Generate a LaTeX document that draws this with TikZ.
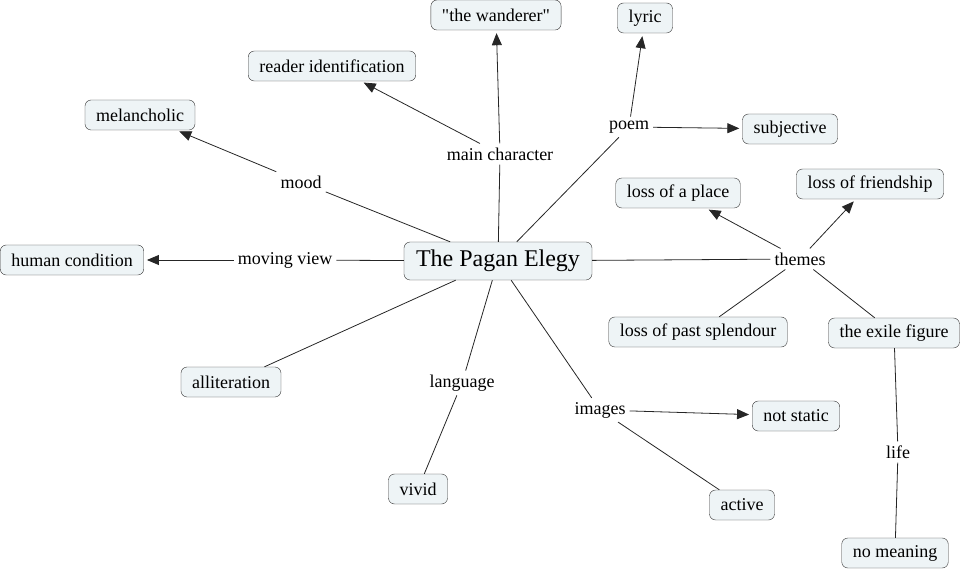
\documentclass[tikz,border=0pt]{standalone}
\usepackage{fontspec}
\setmainfont{Liberation Serif}[Ligatures=TeXOff]
\usetikzlibrary{arrows.meta}
\definecolor{cmapfill}{RGB}{238,244,246}
\begin{document}
\begin{tikzpicture}[x=1pt, y=-1pt,
    concept/.style={rectangle, rounded corners=6pt, draw=black!80, fill=cmapfill,
        font=\rmfamily\fontsize{18}{20}\selectfont, inner xsep=11pt, minimum height=30pt},
    phrase/.style={font=\rmfamily\fontsize{18}{20}\selectfont, inner sep=4pt},
    link/.style={draw=black!85, line width=0.8pt},
    linkto/.style={link, -{Triangle[length=12pt, width=10pt]}, shorten >=3pt}]
    \useasboundingbox (0,0) rectangle (962,572);
    % concepts
    \node[concept, font=\rmfamily\fontsize{24}{26}\selectfont, inner xsep=12pt, minimum height=38pt] (elegy) at (498,261) {The Pagan Elegy};
    \node[concept] (melancholic) at (140,115) {melancholic};
    \node[concept] (human) at (72,260) {human condition};
    \node[concept] (reader) at (332,66) {reader identification};
    \node[concept] (wanderer) at (496,15) {"the wanderer"};
    \node[concept] (lyric) at (645,18) {lyric};
    \node[concept] (subjective) at (790,129) {subjective};
    \node[concept] (place) at (678,193) {loss of a place};
    \node[concept] (friendship) at (870,184) {loss of friendship};
    \node[concept] (splendour) at (698,332) {loss of past splendour};
    \node[concept] (exile) at (894,333) {the exile figure};
    \node[concept] (alliteration) at (231,382) {alliteration};
    \node[concept] (vivid) at (418,489) {vivid};
    \node[concept] (static) at (796,416) {not static};
    \node[concept] (active) at (742,505) {active};
    \node[concept] (meaning) at (895,553) {no meaning};
    % linking phrases
    \node[phrase] (mood) at (301,182) {mood};
    \node[phrase] (moving) at (285,260) {moving view};
    \node[phrase] (character) at (500,154) {main character};
    \node[phrase] (poem) at (629,127) {poem};
    \node[phrase] (themes) at (800,259) {themes};
    \node[phrase] (language) at (462,383) {language};
    \node[phrase] (images) at (600,410) {images};
    \node[phrase] (life) at (898,452) {life};
    % connectors
    \draw[link] (elegy) -- (mood);
    \draw[linkto] (mood) -- (melancholic);
    \draw[link] (elegy) -- (moving);
    \draw[linkto] (moving) -- (human);
    \draw[link] (elegy) -- (character);
    \draw[linkto] (character) -- (reader);
    \draw[linkto] (character) -- (wanderer);
    \draw[link] (elegy) -- (poem);
    \draw[linkto] (poem) -- (lyric);
    \draw[linkto] (poem) -- (subjective);
    \draw[link] (elegy) -- (themes);
    \draw[linkto] (themes) -- (place);
    \draw[linkto] (themes) -- (friendship);
    \draw[link] (themes) -- (splendour);
    \draw[link] (themes) -- (exile);
    \draw[link] (exile) -- (life);
    \draw[link] (life) -- (meaning);
    \draw[link] (elegy) -- (alliteration);
    \draw[link] (elegy) -- (language);
    \draw[link] (language) -- (vivid);
    \draw[link] (elegy) -- (images);
    \draw[linkto] (images) -- (static);
    \draw[link] (images) -- (active);
\end{tikzpicture}
\end{document}
